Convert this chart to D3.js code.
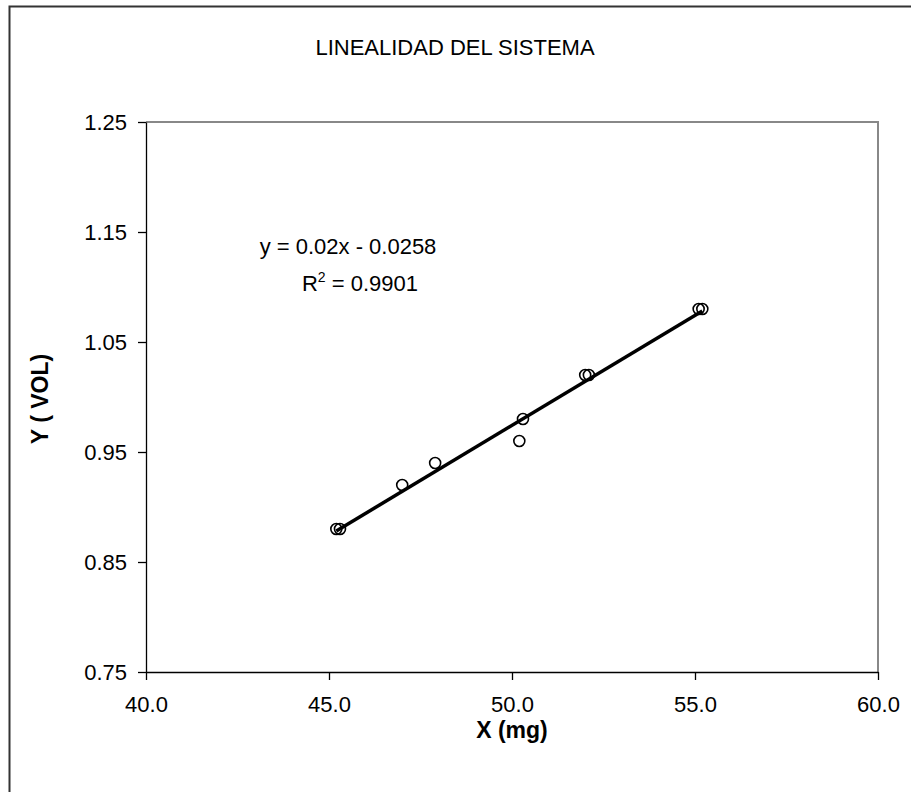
<!DOCTYPE html>
<html>
<head>
<meta charset="utf-8">
<script src="https://cdn.jsdelivr.net/npm/d3@7"></script>
<style>
  body { margin: 0; background: #fff; }
  svg text { font-family: Arial, "Liberation Sans", sans-serif; fill: #000; }
</style>
</head>
<body>
<div id="chart"></div>
<script>
// data
var xValues = [45.2, 45.3, 47.0, 47.9, 50.2, 50.3, 52.0, 52.1, 55.1, 55.2];
var yValues = [0.88, 0.88, 0.92, 0.94, 0.96, 0.98, 1.02, 1.02, 1.08, 1.08];
var xTicks = [40, 45, 50, 55, 60];
var yTicks = [0.75, 0.85, 0.95, 1.05, 1.15, 1.25];
var slope = 0.02;
var intercept = -0.0258;
var rSquared = 0.9901;

var fullWidth = 911;
var fullHeight = 792;
var margin = {top: 122, right: 33, bottom: 120, left: 146};
var width = fullWidth - margin.left - margin.right;
var height = fullHeight - margin.top - margin.bottom;

var svg = d3.select('#chart').append('svg')
  .attr('width', fullWidth)
  .attr('height', fullHeight);

// chart border (runs off the bottom/right edge like the original)
svg.append('rect')
  .attr('x', 9.5).attr('y', 6.5)
  .attr('width', 940).attr('height', 820)
  .attr('fill', 'none')
  .attr('stroke', '#333')
  .attr('stroke-width', 2);

svg.append('text')
  .attr('x', 455).attr('y', 55)
  .attr('text-anchor', 'middle')
  .style('font-size', '22px')
  .text('LINEALIDAD DEL SISTEMA');

var g = svg.append('g')
  .attr('transform', 'translate(' + margin.left + ',' + margin.top + ')');

var xScale = d3.scaleLinear().domain([40, 60]).range([0, width]);
var yScale = d3.scaleLinear().domain([0.75, 1.25]).range([height, 0]);

// plot area frame: grey top and right
g.append('path')
  .attr('d', 'M0,0H' + width + 'V' + height)
  .attr('fill', 'none')
  .attr('stroke', '#888')
  .attr('stroke-width', 2);

var xAxis = d3.axisBottom(xScale).tickValues(xTicks)
  .tickFormat(d3.format('.1f')).tickSizeInner(8).tickSizeOuter(0).tickPadding(16);
var yAxis = d3.axisLeft(yScale).tickValues(yTicks)
  .tickFormat(d3.format('.2f')).tickSizeInner(8).tickSizeOuter(0).tickPadding(11);

var xg = g.append('g')
  .attr('transform', 'translate(0,' + height + ')')
  .call(xAxis);
var yg = g.append('g').call(yAxis);

[xg, yg].forEach(function(a) {
  a.selectAll('path, line').attr('stroke', '#000').attr('stroke-width', 1.3);
  a.selectAll('text').style('font-size', '22px')
    .style('font-family', 'Arial, "Liberation Sans", sans-serif');
});

// axis titles
svg.append('text')
  .attr('x', margin.left + width / 2).attr('y', 738)
  .attr('text-anchor', 'middle')
  .style('font-size', '23px').style('font-weight', 'bold')
  .text('X (mg)');

svg.append('text')
  .attr('transform', 'translate(48,' + (margin.top + height / 2 + 2) + ')rotate(-90)')
  .attr('text-anchor', 'middle')
  .style('font-size', '23px').style('font-weight', 'bold')
  .text('Y ( VOL)');

// trend line across the data range
var xMin = d3.min(xValues), xMax = d3.max(xValues);
g.append('line')
  .attr('x1', xScale(xMin)).attr('y1', yScale(slope * xMin + intercept))
  .attr('x2', xScale(xMax)).attr('y2', yScale(slope * xMax + intercept))
  .attr('stroke', '#000')
  .attr('stroke-width', 3.5);

// markers
g.selectAll('circle.pt')
  .data(xValues)
  .enter().append('circle')
    .classed('pt', true)
    .attr('cx', function(d) { return xScale(d); })
    .attr('cy', function(d, i) { return yScale(yValues[i]); })
    .attr('r', 5.5)
    .attr('fill', 'none')
    .attr('stroke', '#000')
    .attr('stroke-width', 1.6);

// equation label
var eq = svg.append('text')
  .attr('text-anchor', 'middle')
  .style('font-size', '22px');
eq.append('tspan')
  .attr('x', 348).attr('y', 254)
  .text('y = ' + slope + 'x - ' + Math.abs(intercept));
var r2 = eq.append('tspan').attr('x', 360).attr('y', 291);
r2.append('tspan').text('R');
r2.append('tspan').attr('dy', -9).style('font-size', '14px').text('2');
r2.append('tspan').attr('dy', 9).text(' = ' + rSquared);
</script>
</body>
</html>
